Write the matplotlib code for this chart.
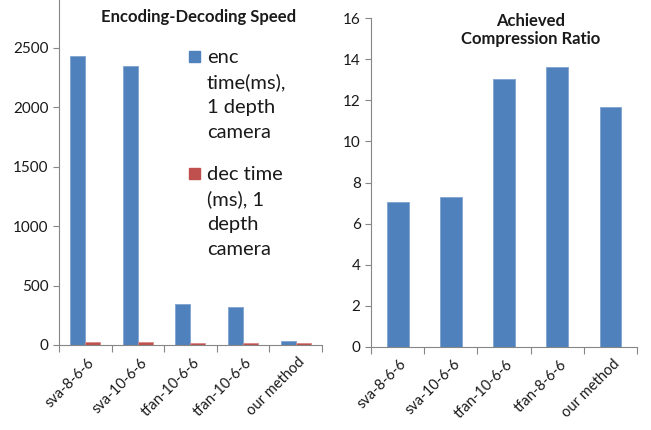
import numpy as np
import matplotlib
matplotlib.use("Agg")
import matplotlib.pyplot as plt
from matplotlib.patches import Rectangle
from matplotlib.transforms import ScaledTranslation

plt.rcParams["font.family"] = ["Lato", "DejaVu Sans"]

# timing of each codec, one depth camera
speed_methods = ["sva-8-6-6", "sva-10-6-6", "tfan-10-6-6", "tfan-10-6-6", "our method"]
enc_time = [2435, 2350, 343, 323, 33]
dec_time = [25, 25, 20, 19, 14]

# compression ratio of each codec
ratio_methods = ["sva-8-6-6", "sva-10-6-6", "tfan-10-6-6", "tfan-8-6-6", "our method"]
ratio = [7.05, 7.3, 13.04, 13.64, 11.68]

enc_label = ["enc", "time(ms),", "1 depth", "camera"]
dec_label = ["dec time", "(ms), 1", "depth", "camera"]

blue = "#4F81BD"
red = "#C0504D"
axis_col = "#868686"
txt_col = "#1a1a1a"

fig = plt.figure(figsize=(6.51, 4.30), dpi=100)


def excel_axes(ax, labels):
    n = len(labels)
    ax.set_xlim(0, n)
    ax.set_xticks(np.arange(n + 1))
    ax.set_xticklabels([])
    ax.set_xticks(np.arange(n) + 0.5, minor=True)
    ax.set_xticklabels(labels, minor=True, rotation=45, ha="right", va="center",
                       rotation_mode="anchor", fontsize=10.5, color=txt_col)
    ax.tick_params(axis="x", which="minor", length=0, pad=11)
    ax.tick_params(axis="x", which="major", length=5, color=axis_col)
    ax.tick_params(axis="y", length=4, color=axis_col, labelsize=11,
                   labelcolor=txt_col)
    # nudge category labels a little to the right
    shift = ScaledTranslation(5 / 72, 0, fig.dpi_scale_trans)
    for lab in ax.get_xticklabels(minor=True):
        lab.set_transform(lab.get_transform() + shift)
    for s in ["top", "right"]:
        ax.spines[s].set_visible(False)
    for s in ["left", "bottom"]:
        ax.spines[s].set_color(axis_col)


# left: encoding / decoding time
ax1 = fig.add_axes([0.0906, 0.1977, 0.404, 0.8023])
x = np.arange(len(speed_methods)) + 0.5
w = 0.285
ax1.bar(x - w / 2, enc_time, w, color=blue, edgecolor="#7FA3D0", linewidth=0.6)
ax1.bar(x + w / 2, dec_time, w, color=red, edgecolor="#D98A88", linewidth=0.6)
ax1.set_ylim(0, 2904)
ax1.set_yticks(np.arange(0, 2501, 500))
excel_axes(ax1, speed_methods)
ax1.text(0.532, 0.951, "Encoding-Decoding Speed", transform=ax1.transAxes,
         ha="center", va="center", fontsize=12, fontweight="bold", color=txt_col)

# hand-placed legend, marker level with the first text line
step = 25 / 345
for lines, col, y0 in [(enc_label, blue, 1 - 63 / 345), (dec_label, red, 1 - 180 / 345)]:
    ax1.add_patch(Rectangle((0.494, y0 + 0.003), 0.044, 0.031, color=col,
                            transform=ax1.transAxes, clip_on=False))
    for i, line in enumerate(lines):
        ax1.text(0.563, y0 - i * step, line, transform=ax1.transAxes,
                 ha="left", va="baseline", fontsize=14.5, color=txt_col)

# right: compression ratio
ax2 = fig.add_axes([0.570, 0.1937, 0.4086, 0.7637])
ax2.bar(np.arange(len(ratio_methods)) + 0.5, ratio, 0.41, color=blue,
        edgecolor="#7FA3D0", linewidth=0.6)
ax2.set_ylim(0, 16)
ax2.set_yticks(np.arange(0, 17, 2))
excel_axes(ax2, ratio_methods)
ax2.text(0.598, 0.964, "Achieved\nCompression Ratio", transform=ax2.transAxes,
         ha="center", va="center", fontsize=12, fontweight="bold",
         linespacing=1.1, color=txt_col)

fig.savefig("out.png", dpi=100)
